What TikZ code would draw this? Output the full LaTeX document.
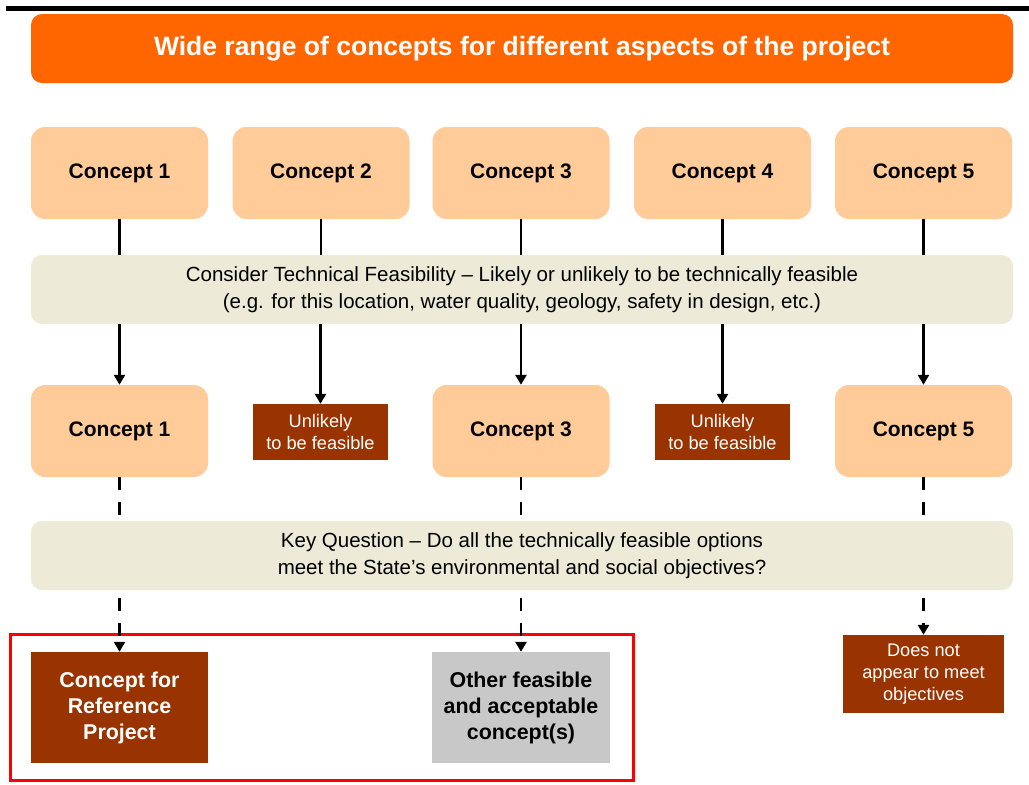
\documentclass[tikz,border=0pt]{standalone}
\usepackage{fontspec}
\setmainfont{Liberation Sans}
\usetikzlibrary{arrows.meta}
\definecolor{orangeT}{HTML}{FF6600}
\definecolor{peach}{HTML}{FFCC99}
\definecolor{beige}{HTML}{EDEAD7}
\definecolor{rust}{HTML}{993300}
\definecolor{greyb}{HTML}{C8C8C8}
\definecolor{redb}{HTML}{FF0000}
\begin{document}
\begin{tikzpicture}[x=1pt,y=-1pt,
  concept/.style={fill=peach, rounded corners=14pt, minimum width=177pt, minimum height=92pt, inner sep=0pt, font=\fontsize{21}{24}\selectfont\bfseries, text=black},
  bar/.style={fill=beige, rounded corners=11pt, minimum width=982pt, minimum height=69pt, inner sep=0pt, align=center, font=\fontsize{20.5}{26.5}\selectfont},
  rustbox/.style={fill=rust, text=white, inner sep=0pt, align=center, font=\fontsize{18.2}{22}\selectfont},
  conn/.style={line width=2.6pt, black},
  arr/.style={conn, -{Triangle[width=11pt,length=10pt]}},
  darr/.style={arr, dash pattern=on 13pt off 12pt},
  dline/.style={conn, dash pattern=on 13pt off 12pt}
]
\useasboundingbox (0,0) rectangle (1029,785);
\fill[white] (0,0) rectangle (1029,785);
% top rule
\draw[line width=4.5pt] (6,8.5) -- (1029,8.5);
% title
\node[fill=orangeT, rounded corners=11pt, minimum width=982pt, minimum height=69pt, inner sep=0pt, text=white, font=\fontsize{26.5}{30}\selectfont\bfseries] (title) at (522,48.5) {Wide range of concepts for different aspects of the project};
% row 1
\node[concept] (a1) at (119.5,173) {Concept 1};
\node[concept] (a2) at (321,173) {Concept 2};
\node[concept] (a3) at (521,173) {Concept 3};
\node[concept] (a4) at (722.5,173) {Concept 4};
\node[concept] (a5) at (923.5,173) {Concept 5};
% bar 1
\node[bar] (bar1) at (522,289.5) {Consider Technical Feasibility -- Likely or unlikely to be technically feasible\\(e.g. for this location, water quality, geology, safety in design, etc.)};
% row 2
\node[concept] (b1) at (119.5,431) {Concept 1};
\node[rustbox, minimum width=135pt, minimum height=56pt] (b2) at (320.5,432) {Unlikely\\to be feasible};
\node[concept] (b3) at (521,431) {Concept 3};
\node[rustbox, minimum width=135pt, minimum height=56pt] (b4) at (722.5,432) {Unlikely\\to be feasible};
\node[concept] (b5) at (923.5,431) {Concept 5};
% bar 2
\node[bar] (bar2) at (522,555.5) {Key Question -- Do all the technically feasible options\\meet the State's environmental and social objectives?};
% bottom
\draw[redb, line width=3pt] (10,634) rectangle (633,780);
\node[rustbox, minimum width=177pt, minimum height=111pt, font=\fontsize{21.4}{26}\selectfont\bfseries] (c1) at (119.5,707.5) {Concept for\\Reference\\Project};
\node[fill=greyb, inner sep=0pt, align=center, minimum width=178pt, minimum height=111pt, font=\fontsize{21.4}{26}\selectfont\bfseries] (c3) at (521,707.5) {Other feasible\\and acceptable\\concept(s)};
\node[rustbox, minimum width=161pt, minimum height=78pt] (c5) at (923.5,674) {Does not\\appear to meet\\objectives};
% connectors row1 -> bar1
\foreach \n in {a1,a2,a3,a4,a5} {
  \draw[conn] (\n.south) -- (\n.south |- bar1.north);
}
% bar1 -> row2
\draw[arr] (b1.north |- bar1.south) -- (b1.north);
\draw[arr] (b2.north |- bar1.south) -- (b2.north);
\draw[arr] (b3.north |- bar1.south) -- (b3.north);
\draw[arr] (a4.south |- bar1.south) -- (b4.north);
\draw[arr] (b5.north |- bar1.south) -- (b5.north);
% row2 -> bar2 dashed
\draw[dline] (b1.south) -- (b1.south |- bar2.north);
\draw[dline] (b3.south) -- (b3.south |- bar2.north);
\draw[dline] (b5.south) -- (b5.south |- bar2.north);
% bar2 -> bottom dashed arrows
\draw[darr] (c1.north |- bar2.south) ++(0,8) -- (c1.north);
\draw[darr] (c3.north |- bar2.south) ++(0,8) -- (c3.north);
\draw[darr] (c5.north |- bar2.south) ++(0,8) -- (c5.north);
\end{tikzpicture}
\end{document}
